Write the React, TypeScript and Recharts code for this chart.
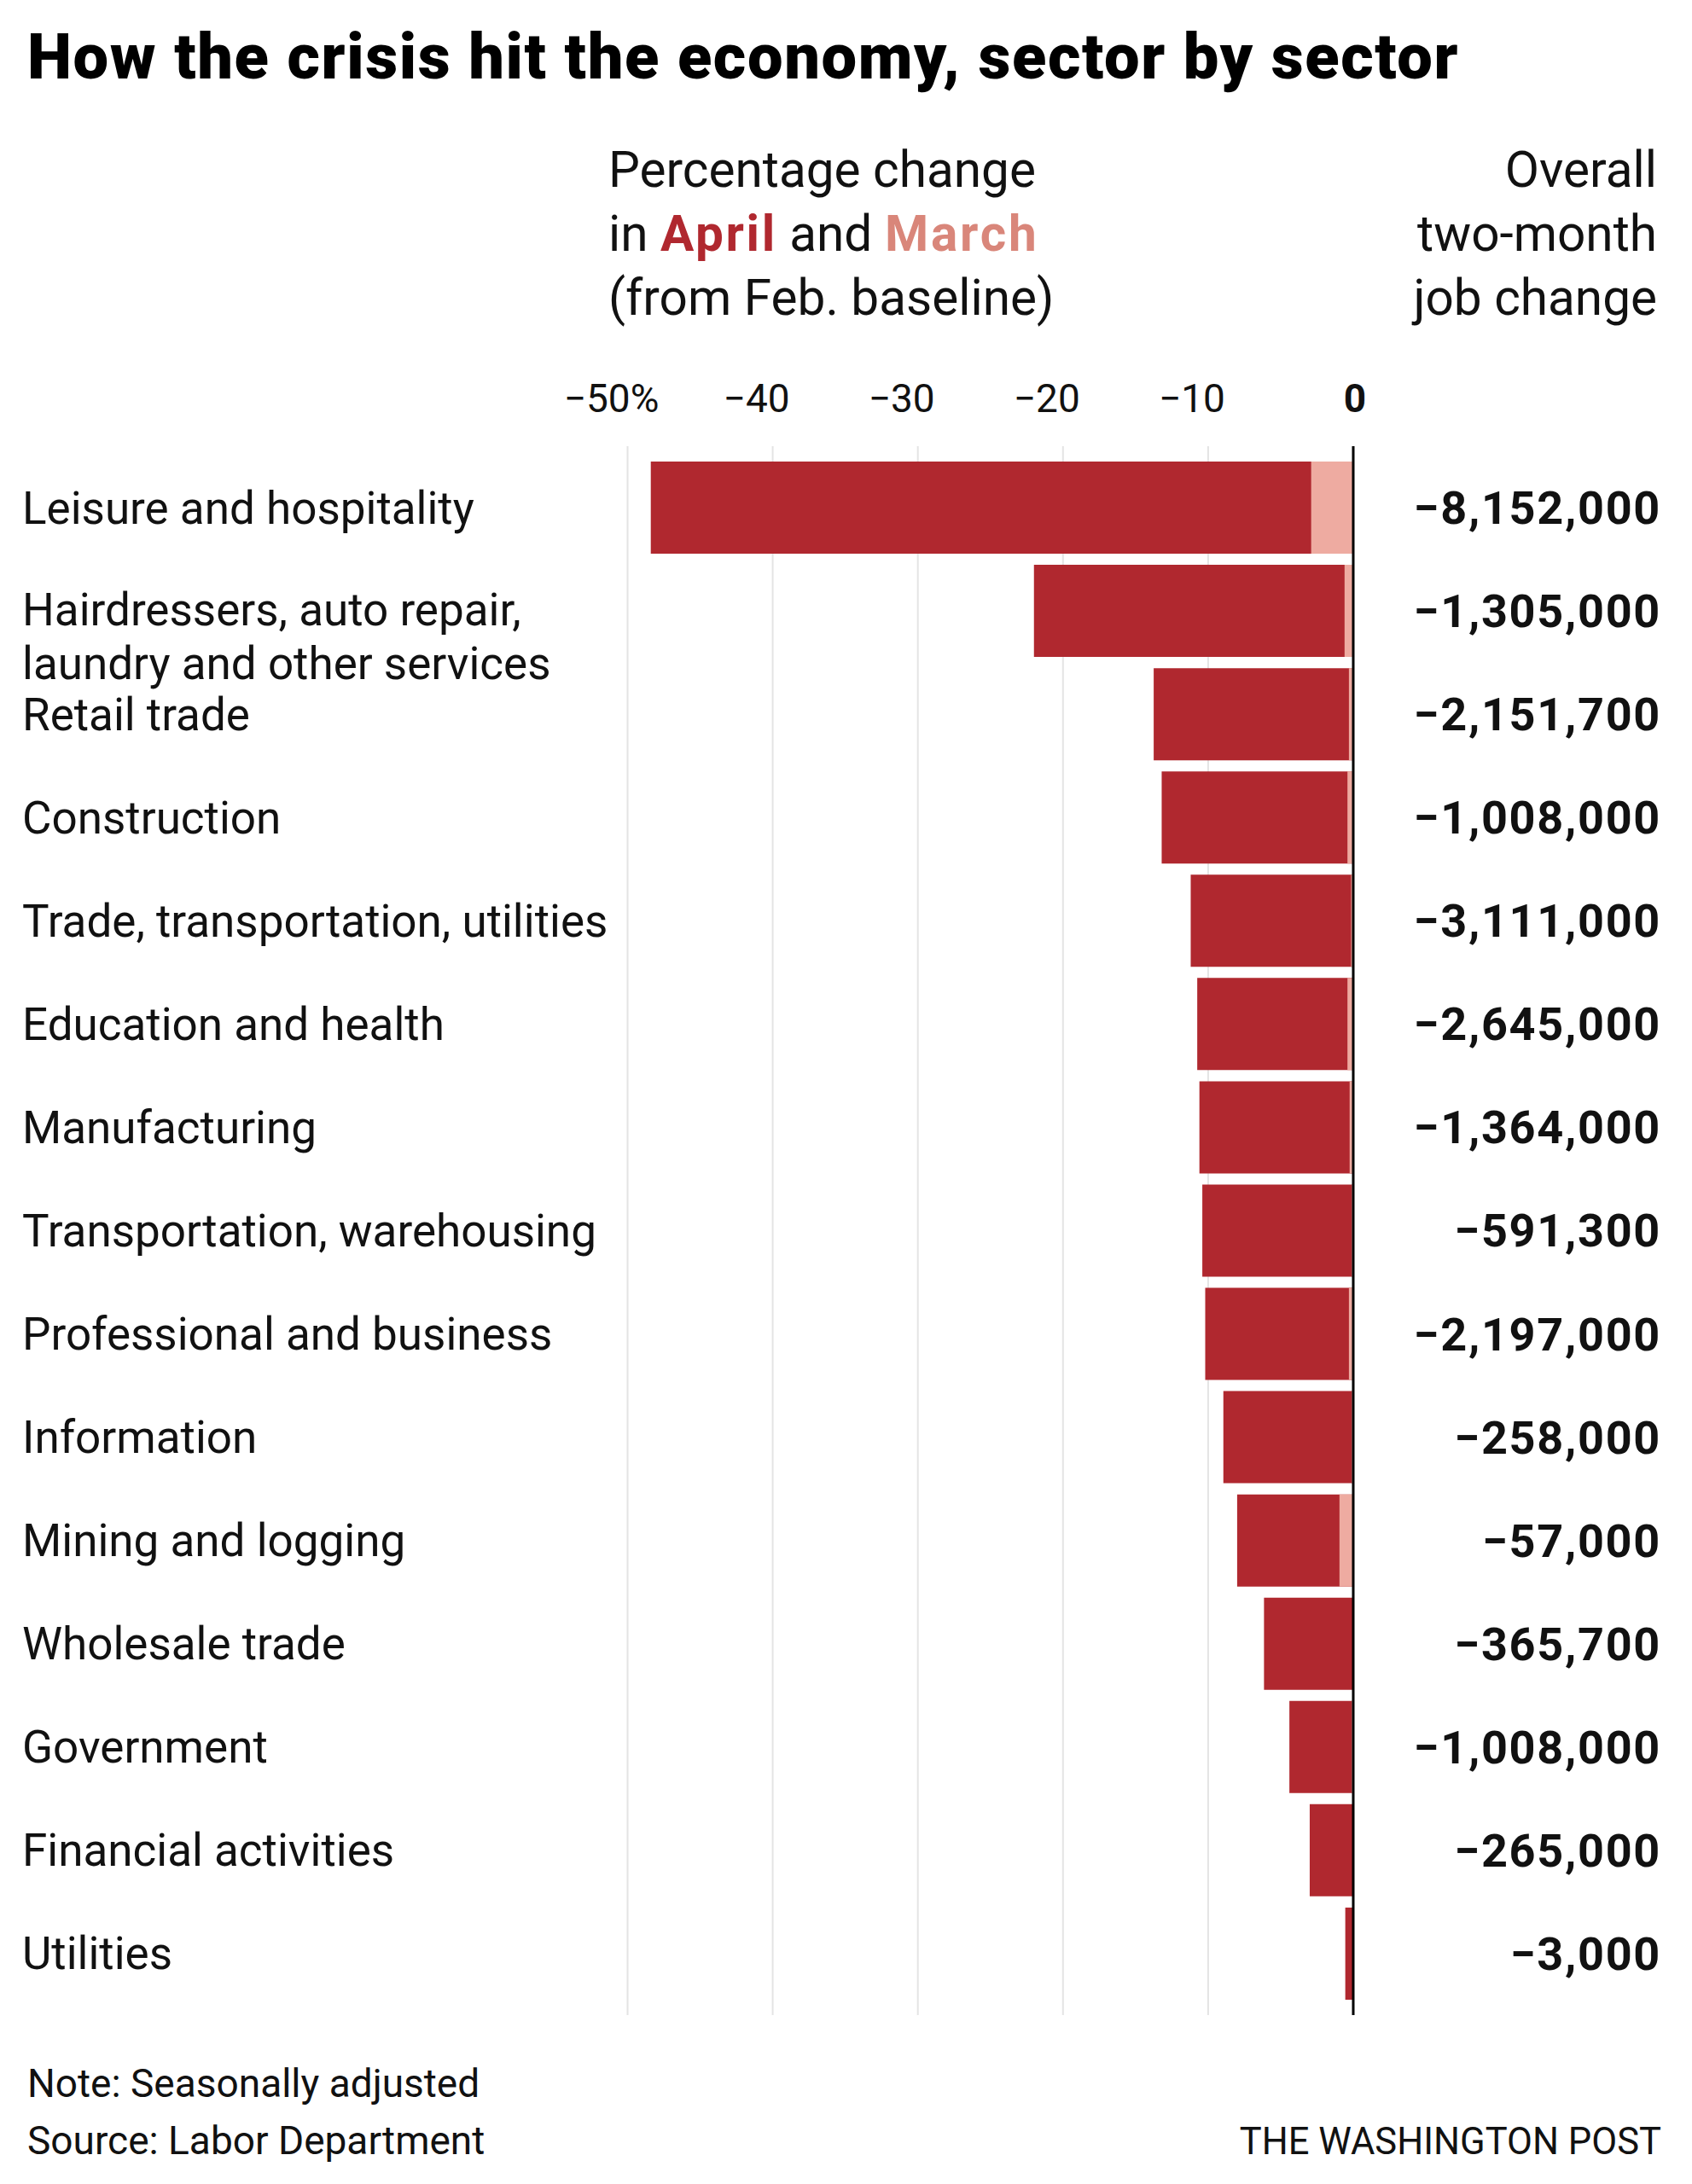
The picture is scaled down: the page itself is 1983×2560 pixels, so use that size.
import React from 'react';
import { BarChart, Bar, XAxis, YAxis, CartesianGrid, ReferenceLine, LabelList } from 'recharts';

const categories = [
  'Leisure and hospitality',
  'Hairdressers, auto repair,\nlaundry and other services',
  'Retail trade',
  'Construction',
  'Trade, transportation, utilities',
  'Education and health',
  'Manufacturing',
  'Transportation, warehousing',
  'Professional and business',
  'Information',
  'Mining and logging',
  'Wholesale trade',
  'Government',
  'Financial activities',
  'Utilities',
];

// Percentage change from February baseline, as of April (cumulative)
const aprilChange = [-48.4, -22.0, -13.75, -13.2, -11.2, -10.75, -10.6, -10.4, -10.2, -8.95, -8.0, -6.15, -4.4, -3.0, -0.55];
// Percentage change from February baseline, as of March
const marchChange = [-2.9, -0.6, -0.3, -0.4, -0.15, -0.4, -0.25, -0.1, -0.3, -0.1, -0.95, -0.05, -0.1, -0.05, -0.05];
// Overall two-month job change
const totalJobChange = [-8152000, -1305000, -2151700, -1008000, -3111000, -2645000, -1364000, -591300, -2197000, -258000, -57000, -365700, -1008000, -265000, -3000];

const xTicks = [-50, -40, -30, -20, -10, 0];
const xTickLabels = ['\u221250%', '\u221240', '\u221230', '\u221220', '\u221210', '0'];

const data = categories.map((name, i) => ({
  name,
  april: aprilChange[i],
  march: marchChange[i],
  total: totalJobChange[i],
}));

const FONT = 'Roboto, "Noto Sans", sans-serif';
const DARK = '#b0282f';
const LIGHT = '#eeaba1';
const MARCH_TEXT = '#d9867a';
const INK = '#111111';

const formatTotal = (v: number) => '\u2212' + Math.abs(v).toLocaleString('en-US');

function XTick(props: any) {
  const { x, payload } = props;
  const v = payload.value;
  const idx = xTicks.indexOf(v);
  const label = idx >= 0 ? xTickLabels[idx] : String(v);
  const isZero = v === 0;
  return (
    <text
      x={Number(x) + (isZero ? 2 : -19)}
      y={483}
      textAnchor="middle"
      fontFamily={FONT}
      fontSize={46}
      fontWeight={isZero ? 700 : 400}
      fill={INK}
    >
      {label}
    </text>
  );
}

function YTick(props: any) {
  const { y, payload } = props;
  const lines = String(payload.value).split('\n');
  const multi = lines.length > 1;
  return (
    <text x={26} y={Number(y) + (multi ? 17 : 19)} fontFamily={FONT} fontSize={53} fill={INK}>
      {lines.map((l, i) => (
        <tspan key={i} x={26} dy={i === 0 ? 0 : 63}>
          {l}
        </tspan>
      ))}
    </text>
  );
}

function TotalLabel(props: any) {
  const vb = props.viewBox && props.viewBox.height !== undefined ? props.viewBox : props;
  const y = Number(vb.y);
  const h = Number(vb.height);
  return (
    <text
      x={1947}
      y={y + h / 2 + 19}
      textAnchor="end"
      fontFamily={FONT}
      fontSize={54}
      fontWeight={700}
      letterSpacing={1.7}
      fill={INK}
    >
      {formatTotal(Number(props.value))}
    </text>
  );
}

export default function App() {
  return (
    <div style={{ position: 'absolute', left: 0, top: 0, width: 1983, height: 2560, background: '#fff' }}>
      <svg width={1983} height={2560} style={{ position: 'absolute', left: 0, top: 0 }}>
        <text x={32} y={92} fontFamily={FONT} fontSize={74} fontWeight={900} letterSpacing={1.6} fill="#000">
          How the crisis hit the economy, sector by sector
        </text>
        <g fontFamily={FONT} fontSize={58.5} fill={INK}>
          <text x={713} y={219}>Percentage change</text>
          <text x={713} y={294}>
            in <tspan fontWeight={700} fill={DARK} letterSpacing={2.6}>April</tspan> and{' '}
            <tspan fontWeight={700} fill={MARCH_TEXT} letterSpacing={2.8}>March</tspan>
          </text>
          <text x={713} y={369}>(from Feb. baseline)</text>
          <text x={1942} y={219} textAnchor="end">Overall</text>
          <text x={1942} y={294} textAnchor="end">two-month</text>
          <text x={1942} y={369} textAnchor="end">job change</text>
        </g>
        <g fontFamily={FONT} fill={INK}>
          <text x={32} y={2458} fontSize={46}>Note: Seasonally adjusted</text>
          <text x={32} y={2525} fontSize={46}>Source: Labor Department</text>
          <text x={1947} y={2525} fontSize={43.5} textAnchor="end">THE WASHINGTON POST</text>
        </g>
      </svg>
      <div style={{ position: 'absolute', left: 0, top: 0 }}>
        <BarChart
          width={1983}
          height={2560}
          data={data}
          layout="vertical"
          margin={{ top: 522, right: 397, bottom: 198, left: 734.5 }}
          barSize={108}
          barGap={-108}
        >
          <CartesianGrid horizontal={false} vertical={true} stroke="#e4e4e4" strokeWidth={2} />
          <XAxis
            type="number"
            orientation="top"
            domain={[-50, 0]}
            ticks={xTicks}
            interval={0}
            height={1}
            axisLine={false}
            tickLine={false}
            tick={XTick}
            allowDataOverflow
          />
          <YAxis
            type="category"
            dataKey="name"
            width={1}
            interval={0}
            axisLine={false}
            tickLine={false}
            tick={YTick}
            padding={{ top: 11, bottom: 12 }}
          />
          <Bar dataKey="april" fill={DARK} isAnimationActive={false}>
            <LabelList dataKey="total" content={TotalLabel} />
          </Bar>
          <Bar dataKey="march" fill={LIGHT} isAnimationActive={false} />
          <ReferenceLine x={0} stroke="#000" strokeWidth={3} />
        </BarChart>
      </div>
    </div>
  );
}
